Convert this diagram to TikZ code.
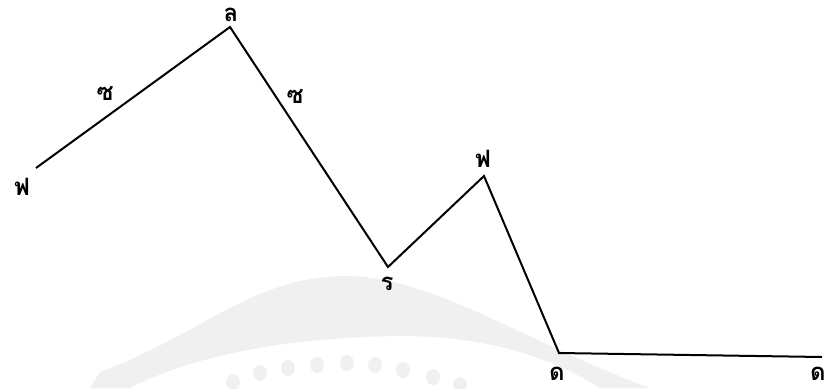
\documentclass[tikz,border=0pt]{standalone}
\usepackage{fontspec}
\newfontfamily\thaifont[Script=Thai]{Loma}
\tikzset{
  lbl/.style={font=\thaifont\bfseries\fontsize{24}{26}\selectfont, inner sep=0pt, anchor=base, text depth=0pt},
  wave/.style={line width=2bp, line join=miter, black},
  wmark/.style={fill=black!6, draw=none}
}
\begin{document}
\begin{tikzpicture}[x=1bp,y=-1bp]
\useasboundingbox (0,0) rectangle (827,388);
% faint watermark
\fill[wmark] (90,388) -- (100,372) .. controls (200,335) and (250,279) .. (340,276)
  .. controls (430,274) and (520,340) .. (650,388) -- (600,388)
  .. controls (540,350) and (470,336) .. (400,336)
  .. controls (300,337) and (200,352) .. (130,388) -- cycle;
\foreach \dx/\dy in {233/382,260/373,288/368,317/365,347/363,375/365,403/370,433/377,460/385}
  \fill[wmark] (\dx,\dy) ellipse[x radius=7, y radius=8];
% vertices
\coordinate (p1) at (36,168);
\coordinate (p2) at (230,27);
\coordinate (p3) at (388,267);
\coordinate (p4) at (484,176);
\coordinate (p5) at (559,353);
\coordinate (p6) at (822,357);
\draw[wave] (p1) -- (p2) -- (p3) -- (p4) -- (p5) -- (p6);
% labels
\node[lbl] (l1) at (22,195) {ฟ};
\node[lbl] (l2) at (105,100) {ซ};
\node[lbl] (l3) at (231,21) {ล};
\node[lbl] (l4) at (295,103) {ซ};
\node[lbl] (l5) at (387,290) {ร};
\node[lbl] (l6) at (483,167) {ฟ};
\node[lbl] (l7) at (557,380) {ด};
\node[lbl] (l8) at (818,380) {ด};
\end{tikzpicture}
\end{document}
